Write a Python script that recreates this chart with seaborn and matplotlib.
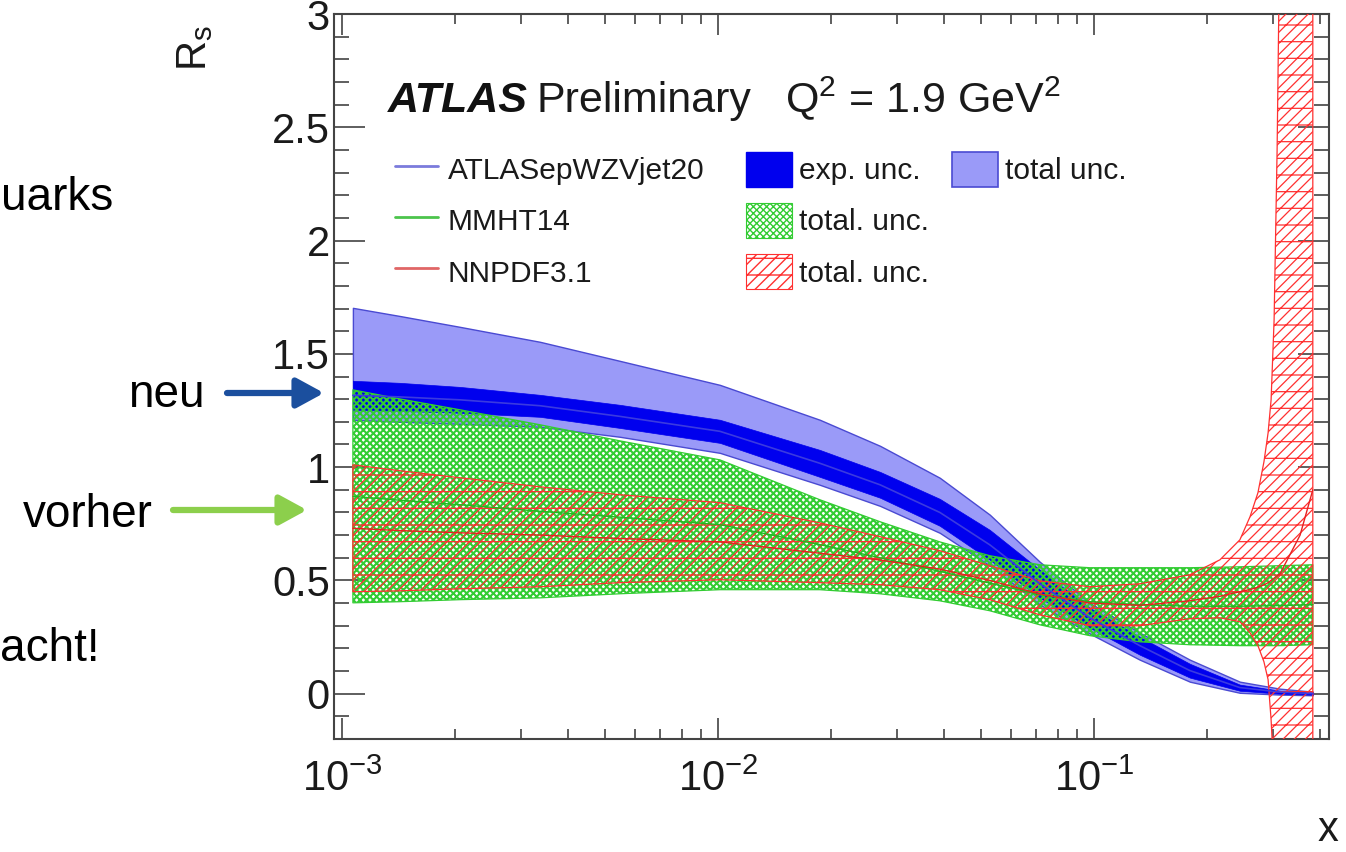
import numpy as np
import pandas as pd
import matplotlib
matplotlib.use("Agg")
import matplotlib.pyplot as plt
import seaborn as sns
from matplotlib.patches import Patch
from matplotlib.lines import Line2D
from matplotlib.ticker import FixedLocator, FuncFormatter, NullFormatter, LogLocator

# ---------------- data ----------------
x_grid = [0.001069, 0.001426, 0.002061, 0.003365, 0.005483, 0.01012, 0.01866,
          0.02698, 0.03890, 0.05284, 0.07178, 0.09750, 0.1324, 0.1799, 0.2443,
          0.3126, 0.3819]

atlas_cen = [1.317, 1.310, 1.297, 1.271, 1.224, 1.158, 1.017, 0.922, 0.800,
             0.657, 0.485, 0.335, 0.212, 0.102, 0.027, 0.007, 0.000]
atlas_exp_hi = [1.381, 1.372, 1.354, 1.319, 1.275, 1.209, 1.076, 0.979, 0.860,
                0.723, 0.547, 0.379, 0.251, 0.132, 0.040, 0.013, 0.004]
atlas_exp_lo = [1.253, 1.248, 1.240, 1.222, 1.173, 1.107, 0.957, 0.865, 0.741,
                0.591, 0.423, 0.291, 0.172, 0.071, 0.013, 0.000, -0.004]
atlas_tot_hi = [1.703, 1.667, 1.619, 1.553, 1.469, 1.363, 1.209, 1.094, 0.953,
                0.790, 0.582, 0.401, 0.269, 0.150, 0.053, 0.022, 0.009]
atlas_tot_lo = [1.209, 1.200, 1.191, 1.178, 1.134, 1.063, 0.922, 0.829, 0.710,
                0.565, 0.393, 0.265, 0.150, 0.053, 0.004, -0.004, -0.007]

mmht_cen = [0.871, 0.854, 0.834, 0.805, 0.779, 0.746, 0.658, 0.600, 0.540,
            0.488, 0.437, 0.406, 0.393, 0.386, 0.386, 0.389, 0.393]
mmht_hi = [1.341, 1.301, 1.253, 1.187, 1.116, 1.032, 0.856, 0.759, 0.670,
           0.609, 0.569, 0.556, 0.556, 0.556, 0.560, 0.565, 0.569]
mmht_lo = [0.401, 0.406, 0.415, 0.423, 0.441, 0.459, 0.459, 0.441, 0.410,
           0.366, 0.304, 0.256, 0.229, 0.216, 0.212, 0.212, 0.216]

x_nnpdf = [0.001069, 0.001426, 0.002061, 0.003365, 0.005483, 0.01012, 0.01866,
           0.02698, 0.03890, 0.05284, 0.07178, 0.09750, 0.1324, 0.1799, 0.2163,
           0.2443, 0.2600, 0.2729, 0.2831, 0.2904, 0.2958, 0.3013, 0.3069,
           0.3126, 0.3533, 0.3819]
nnpdf_cen = [0.73, 0.72, 0.71, 0.70, 0.685, 0.67, 0.62, 0.59, 0.55, 0.50, 0.44,
             0.40, 0.39, 0.41, 0.43, 0.45, 0.46, 0.47, 0.48, 0.49, 0.50, 0.51,
             0.52, 0.53, 0.70, 0.90]
nnpdf_hi = [1.010, 0.984, 0.953, 0.913, 0.878, 0.843, 0.754, 0.693, 0.631, 0.565,
            0.498, 0.472, 0.485, 0.525, 0.591, 0.679, 0.781, 0.887, 1.023, 1.151,
            1.297, 1.650, 2.400, 3.500, 7.470, 9.680]
nnpdf_lo = [0.450, 0.454, 0.463, 0.472, 0.490, 0.503, 0.490, 0.481, 0.459, 0.415,
            0.348, 0.300, 0.300, 0.331, 0.335, 0.318, 0.269, 0.212, 0.141, 0.062,
            -0.115, -0.379, -0.909, -1.790, -4.880, -6.640]

series_labels = ["ATLASepWZVjet20", "MMHT14", "NNPDF3.1"]
band_labels = ["exp. unc.", "total unc.", "total. unc.", "total. unc."]
y_ticks = [0, 0.5, 1, 1.5, 2, 2.5, 3]
title_parts = ["ATLAS", "Preliminary", "Q$^{2}$ = 1.9 GeV$^{2}$"]
side_texts = ["uarks", "neu", "vorher", "acht!"]

# ---------------- style ----------------
sns.set_theme(style="ticks")
plt.rcParams["font.family"] = ["Liberation Sans", "DejaVu Sans"]
plt.rcParams["mathtext.fontset"] = "custom"
plt.rcParams["mathtext.rm"] = "Liberation Sans"
plt.rcParams["mathtext.it"] = "Liberation Sans:italic"
plt.rcParams["mathtext.bf"] = "Liberation Sans:bold"

W, H = 1346, 852
fig = plt.figure(figsize=(W / 100, H / 100), dpi=100)
fig.patch.set_facecolor("white")
L, R, T, B = 334, 1329, 14, 739
ax = fig.add_axes([L / W, 1 - B / H, (R - L) / W, (B - T) / H])
ax.set_facecolor("white")
ax.grid(False)
ax.set_xscale("log")

c_tot = "#9a9af8"
c_tot_edge = "#4a4ad2"
c_exp = "#0000ee"
c_green = "#33cc33"
c_red = "#ff3030"
hatch_green, hlw_green = "xxxxx", 1.5
hatch_red, hlw_red = "///-", 0.9


def hatch_band(x, lo, hi, color, hatch, hlw, z):
    with plt.rc_context({"hatch.linewidth": hlw}):
        coll = ax.fill_between(x, lo, hi, facecolor="none", edgecolor=color,
                               hatch=hatch, linewidth=0.9, zorder=z)
    if hasattr(coll, "set_hatch_linewidth"):
        coll.set_hatch_linewidth(hlw)
    return coll


ax.fill_between(x_grid, atlas_tot_lo, atlas_tot_hi, facecolor=c_tot,
                edgecolor=c_tot_edge, linewidth=1.0, zorder=1)
ax.fill_between(x_grid, atlas_exp_lo, atlas_exp_hi, facecolor=c_exp,
                edgecolor=c_exp, linewidth=0.5, zorder=2)
hatch_band(x_grid, mmht_lo, mmht_hi, c_green, hatch_green, hlw_green, 3)
hatch_band(x_nnpdf, nnpdf_lo, nnpdf_hi, c_red, hatch_red, hlw_red, 4)

df_a = pd.DataFrame({"x": x_grid, "R": atlas_cen})
df_m = pd.DataFrame({"x": x_grid, "R": mmht_cen})
df_n = pd.DataFrame({"x": x_nnpdf, "R": nnpdf_cen})
sns.lineplot(data=df_a, x="x", y="R", ax=ax, color="#3a3ae0", lw=1.2,
             estimator=None, sort=False, legend=False, zorder=5)
sns.lineplot(data=df_m, x="x", y="R", ax=ax, color="#22b822", lw=1.0,
             estimator=None, sort=False, legend=False, zorder=5)
sns.lineplot(data=df_n, x="x", y="R", ax=ax, color="#e82020", lw=1.0,
             estimator=None, sort=False, legend=False, zorder=5)

ax.set_xlim(10 ** (-3 - 8 / 376), 10 ** (-1 + 235 / 376))
ax.set_ylim(-0.2, 3.0)

# ticks (ROOT style)
ax.yaxis.set_major_locator(FixedLocator(y_ticks))
ax.yaxis.set_minor_locator(FixedLocator([round(-0.2 + 0.1 * i, 1) for i in range(33)]))
ax.yaxis.set_major_formatter(FuncFormatter(lambda v, p: f"{v:g}"))
ax.xaxis.set_major_locator(LogLocator(base=10))
ax.xaxis.set_minor_locator(LogLocator(base=10, subs=np.arange(2, 10)))
ax.xaxis.set_minor_formatter(NullFormatter())
ax.tick_params(axis="both", which="both", direction="in", top=True, right=True,
               color="#333333", labelcolor="#1a1a1a")
ax.tick_params(axis="y", which="major", length=22, width=1.1, labelsize=30, pad=3)
ax.tick_params(axis="y", which="minor", length=11, width=1.1)
ax.tick_params(axis="x", which="major", length=15, width=1.1, labelsize=30, pad=15)
ax.tick_params(axis="x", which="minor", length=7.5, width=1.1)
for sp in ax.spines.values():
    sp.set_linewidth(1.5)
    sp.set_color("#444444")

ax.set_xlabel("")
ax.set_ylabel("R$_{\\rm s}$", fontsize=30, loc="top", color="#1a1a1a")
ax.yaxis.set_label_coords((215 - L) / (R - L), (B - 25) / (B - T))
fig.text(1328 / W, 1 - 830 / H, "x", ha="center", va="center", fontsize=30,
         color="#1a1a1a")

# title
ty = 1 - 112 / H
fs_title = 31
fig.text(388 / W, ty, title_parts[0], fontsize=fs_title, fontweight="bold",
         fontstyle="italic", va="baseline", ha="left", color="#111111")
fig.text(537 / W, ty, title_parts[1], fontsize=fs_title, va="baseline", ha="left",
         color="#1a1a1a")
fig.text(785 / W, ty, title_parts[2], fontsize=fs_title, va="baseline", ha="left",
         color="#1a1a1a")

# legends
fs_leg = 21.5
common = dict(loc="upper left", bbox_transform=fig.transFigure, frameon=False,
              fontsize=fs_leg, handleheight=1.43, labelspacing=0.535,
              borderpad=0, borderaxespad=0, labelcolor="#1a1a1a")
legA = ax.legend(handles=[Line2D([], [], color="#7b7bdc", lw=2.0),
                          Line2D([], [], color="#4cc44c", lw=2.0),
                          Line2D([], [], color="#e06666", lw=2.0)],
                 labels=series_labels, bbox_to_anchor=(395 / W, 1 - 152 / H),
                 handlelength=1.43, handletextpad=0.33, **common)
ax.add_artist(legA)
with plt.rc_context({"hatch.linewidth": hlw_green}):
    p_green = Patch(facecolor="none", edgecolor=c_green, hatch=hatch_green, lw=0.8)
with plt.rc_context({"hatch.linewidth": hlw_red}):
    p_red = Patch(facecolor="none", edgecolor=c_red, hatch=hatch_red, lw=0.8)
legB = ax.legend(handles=[Patch(facecolor=c_exp, edgecolor=c_exp), p_green, p_red],
                 labels=[band_labels[0], band_labels[2], band_labels[3]],
                 bbox_to_anchor=(746 / W, 1 - 152 / H),
                 handlelength=1.54, handletextpad=0.23, **common)
ax.add_artist(legB)
legC = ax.legend(handles=[Patch(facecolor=c_tot, edgecolor=c_tot_edge, lw=1.2)],
                 labels=[band_labels[1]], bbox_to_anchor=(952 / W, 1 - 152 / H),
                 handlelength=1.54, handletextpad=0.25, **common)

# slide annotations outside the plot
fs_side = 33
fig.text(0.5 / W, 1 - 210 / H, side_texts[0], fontsize=fs_side, va="baseline", color="black")
fig.text(128 / W, 1 - 407 / H, side_texts[1], fontsize=fs_side, va="baseline", color="black")
fig.text(23 / W, 1 - 527 / H, side_texts[2], fontsize=fs_side, va="baseline", color="black")
fig.text(0.5 / W, 1 - 661 / H, side_texts[3], fontsize=fs_side, va="baseline", color="black")

arrow_style = "-|>,head_length=0.55,head_width=0.3"
ax.annotate("", xy=(324, H - 393), xytext=(227, H - 393), xycoords="figure pixels",
            textcoords="figure pixels", annotation_clip=False,
            arrowprops=dict(arrowstyle=arrow_style, color="#1b4f9e", lw=4.5,
                            mutation_scale=30, shrinkA=0, shrinkB=0))
ax.annotate("", xy=(307, H - 510), xytext=(173, H - 510), xycoords="figure pixels",
            textcoords="figure pixels", annotation_clip=False,
            arrowprops=dict(arrowstyle=arrow_style, color="#8ccf4c", lw=4.5,
                            mutation_scale=30, shrinkA=0, shrinkB=0))

fig.savefig("out.png", dpi=100, facecolor="white")
